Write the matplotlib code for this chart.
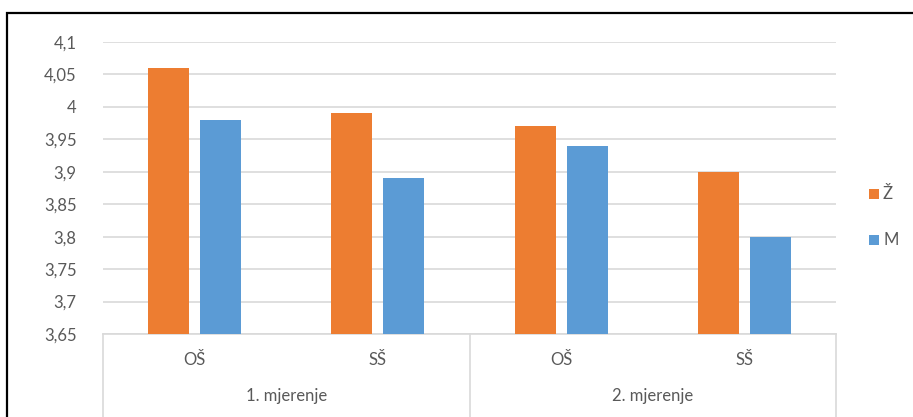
import matplotlib
matplotlib.use("Agg")
import matplotlib.pyplot as plt
from matplotlib.patches import Rectangle
from matplotlib.lines import Line2D

categories = ["OŠ", "SŠ", "OŠ", "SŠ"]
groups = ["1. mjerenje", "2. mjerenje"]
series_names = ["Ž", "M"]
zenske = [4.06, 3.99, 3.97, 3.90]
muski = [3.98, 3.89, 3.94, 3.80]
yticks = [3.65, 3.7, 3.75, 3.8, 3.85, 3.9, 3.95, 4.0, 4.05, 4.1]
ytick_labels = ["3,65", "3,7", "3,75", "3,8", "3,85", "3,9", "3,95", "4", "4,05", "4,1"]

ORANGE = "#ED7D31"
BLUE = "#5B9BD5"
TXT = "#595959"
GRID = "#D9D9D9"
FS = 12

plt.rcParams['font.family'] = ['Lato', 'DejaVu Sans']

W, H = 913, 417
fig = plt.figure(figsize=(W / 100, H / 100), dpi=100)

def fx(px):
    return px / W

def fy(py):
    return (H - py) / H

ax_left, ax_right, ax_top, ax_bot = 103, 836, 42, 334
ax = fig.add_axes([fx(ax_left), fy(ax_bot), fx(ax_right - ax_left), (ax_bot - ax_top) / H])

x = list(range(len(categories)))
bw = 0.224
off = 0.142
ax.bar([i - off for i in x], [v - 3.65 for v in zenske], bottom=3.65, width=bw, color=ORANGE, zorder=3)
ax.bar([i + off for i in x], [v - 3.65 for v in muski], bottom=3.65, width=bw, color=BLUE, zorder=3)

ax.set_xlim(-0.5, len(categories) - 0.5)
ax.set_ylim(3.65, 4.1)
ax.set_yticks(yticks)
ax.set_yticklabels(ytick_labels, color=TXT, fontsize=FS)
ax.tick_params(axis='y', length=0, pad=19)
ax.set_xticks([])
ax.grid(axis='y', color=GRID, linewidth=1.2, zorder=0)
for s in ["top", "right", "left"]:
    ax.spines[s].set_visible(False)
ax.spines["bottom"].set_color(GRID)
ax.spines["bottom"].set_linewidth(1.2)

# multi-level category axis
tr = ax.get_xaxis_transform()
ybot = (ax_bot - H - 5) / (ax_bot - ax_top)
for xs in [-0.5, 1.5, 3.5]:
    ax.add_line(Line2D([xs, xs], [0, ybot], transform=tr, color=GRID, linewidth=1.2, clip_on=False))
ylab1 = (ax_bot - 360) / (ax_bot - ax_top)
ylab2 = (ax_bot - 396) / (ax_bot - ax_top)
for i, c in enumerate(categories):
    ax.text(i, ylab1, c, transform=tr, ha='center', va='center', color=TXT, fontsize=FS)
for g, name in enumerate(groups):
    ax.text(2 * g + 0.5, ylab2, name, transform=tr, ha='center', va='center', color=TXT, fontsize=FS)

# legend
for name, col, py in [(series_names[0], ORANGE, 194), (series_names[1], BLUE, 240)]:
    fig.patches.append(Rectangle((fx(869), fy(py + 5)), fx(10), 10 / H, transform=fig.transFigure,
                                 facecolor=col, edgecolor='none'))
    fig.text(fx(883), fy(py), name, ha='left', va='center', color=TXT, fontsize=FS)

# chart border
fig.patches.append(Rectangle((fx(7), fy(H + 20)), fx(W + 20), (H + 20 - 13) / H, transform=fig.transFigure,
                             facecolor='none', edgecolor='black', linewidth=1.6))

fig.savefig("out.png", dpi=100)
